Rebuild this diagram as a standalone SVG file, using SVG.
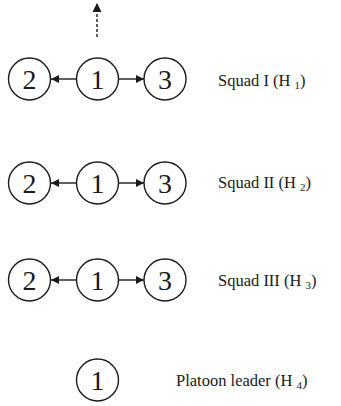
<svg xmlns="http://www.w3.org/2000/svg" width="341" height="406" viewBox="0 0 341 406">
<style>
.n circle{fill:#fff;stroke:#1a1a1a;stroke-width:1.4}
.n text{font-family:"Liberation Serif","Times New Roman",serif;font-size:28px;fill:#1a1a1a;text-anchor:middle}
.lbl{font-family:"Liberation Serif","Times New Roman",serif;font-size:16.5px;fill:#1a1a1a}
.sub{font-size:11px}
.e{stroke:#1a1a1a;stroke-width:1.4;fill:none}
</style>
<defs>
<marker id="ah" viewBox="0 0 10 10" refX="10" refY="5" markerWidth="8" markerHeight="8" markerUnits="userSpaceOnUse" orient="auto">
<path d="M0,0 L10,5 L0,10 z" fill="#1a1a1a"/>
</marker>
<marker id="ah2" viewBox="0 0 10 10" refX="10" refY="5" markerWidth="10" markerHeight="9" markerUnits="userSpaceOnUse" orient="auto">
<path d="M0,0 L10,5 L0,10 z" fill="#1a1a1a"/>
</marker>
</defs>
<g id="connectors">
<line class="e" x1="97" y1="37" x2="97" y2="3" stroke-dasharray="3,2" marker-end="url(#ah2)"/>
<line class="e" x1="76.5" y1="79" x2="51" y2="79" marker-end="url(#ah)"/>
<line class="e" x1="118.5" y1="79" x2="144" y2="79" marker-end="url(#ah)"/>
<line class="e" x1="76.5" y1="183" x2="51" y2="183" marker-end="url(#ah)"/>
<line class="e" x1="118.5" y1="183" x2="144" y2="183" marker-end="url(#ah)"/>
<line class="e" x1="76.5" y1="280" x2="51" y2="280" marker-end="url(#ah)"/>
<line class="e" x1="118.5" y1="280" x2="144" y2="280" marker-end="url(#ah)"/>
</g>
<g id="s1n2" class="n"><circle cx="29.5" cy="79" r="21"/><text x="29.5" y="89">2</text></g>
<g id="s1n1" class="n"><circle cx="97.5" cy="79" r="21"/><text x="97.5" y="89">1</text></g>
<g id="s1n3" class="n"><circle cx="165" cy="79" r="21"/><text x="165" y="89">3</text></g>
<g id="s2n2" class="n"><circle cx="29.5" cy="183" r="21"/><text x="29.5" y="193">2</text></g>
<g id="s2n1" class="n"><circle cx="97.5" cy="183" r="21"/><text x="97.5" y="193">1</text></g>
<g id="s2n3" class="n"><circle cx="165" cy="183" r="21"/><text x="165" y="193">3</text></g>
<g id="s3n2" class="n"><circle cx="29.5" cy="280" r="21"/><text x="29.5" y="290">2</text></g>
<g id="s3n1" class="n"><circle cx="97.5" cy="280" r="21"/><text x="97.5" y="290">1</text></g>
<g id="s3n3" class="n"><circle cx="165" cy="280" r="21"/><text x="165" y="290">3</text></g>
<g id="leader" class="n"><circle cx="97.5" cy="380" r="21"/><text x="97.5" y="390">1</text></g>
<g id="labels">
<text class="lbl" x="218" y="86">Squad I (H <tspan class="sub" dy="3">1</tspan><tspan dy="-3">)</tspan></text>
<text class="lbl" x="218" y="188">Squad II (H <tspan class="sub" dy="3">2</tspan><tspan dy="-3">)</tspan></text>
<text class="lbl" x="218" y="286">Squad III (H <tspan class="sub" dy="3">3</tspan><tspan dy="-3">)</tspan></text>
<text class="lbl" x="176" y="386">Platoon leader (H <tspan class="sub" dy="3">4</tspan><tspan dy="-3">)</tspan></text>
</g>
</svg>
